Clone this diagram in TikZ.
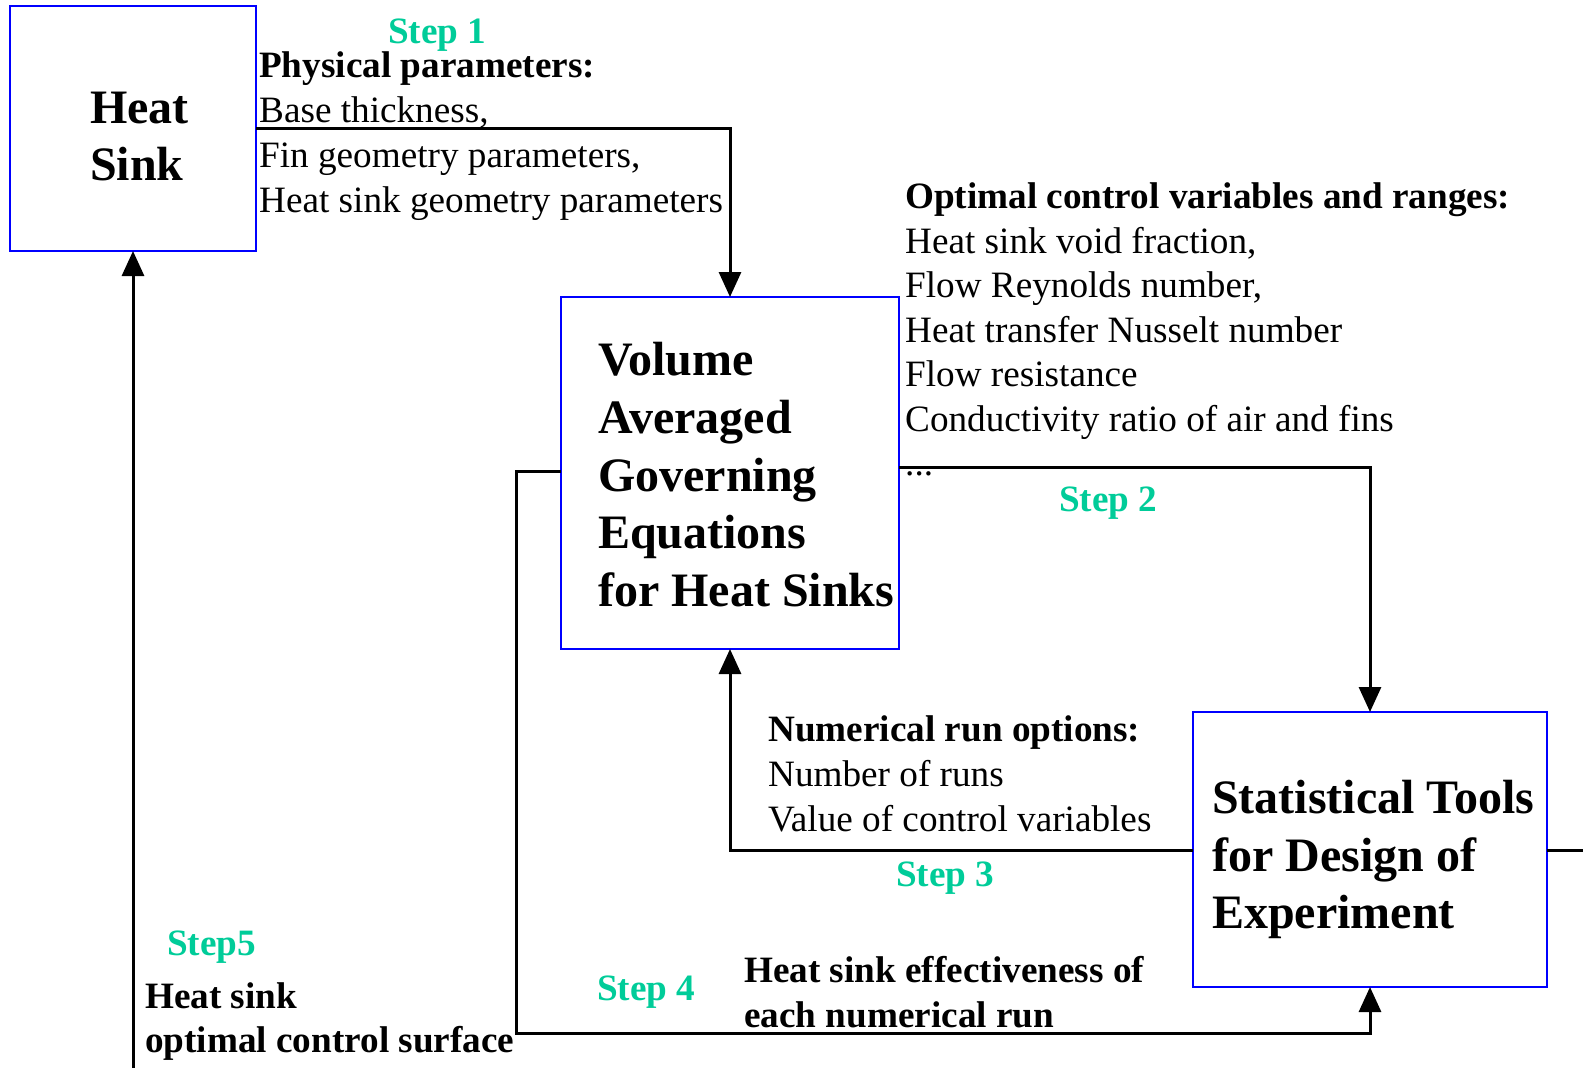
\documentclass[tikz,border=0pt]{standalone}
\usepackage{fontspec}
\setmainfont{Liberation Serif}
\usetikzlibrary{arrows.meta}
\definecolor{stepgreen}{RGB}{0,204,153}
\newcommand\fsmall{\fontsize{37.2}{44.5}\selectfont}
\newcommand\fbig{\fontsize{48}{57}\selectfont\bfseries}
\begin{document}
\begin{tikzpicture}[x=1pt,y=-1pt,
 box/.style={draw=blue, line width=1.5pt, inner sep=0pt, outer sep=0pt, anchor=north west},
 conn/.style={line width=3pt, -{Triangle[length=25pt,width=22pt]}},
 plain/.style={line width=3pt},
 txt/.style={anchor=base west, inner sep=0pt, font=\fsmall},
 btxt/.style={anchor=base west, inner sep=0pt, font=\fsmall\bfseries},
 big/.style={anchor=base west, inner sep=0pt, font=\fbig},
 steplbl/.style={anchor=base west, inner sep=0pt, font=\fsmall\bfseries, text=stepgreen}]
\useasboundingbox (0,0) rectangle (1583,1068);
% boxes
\node[box, minimum width=246pt, minimum height=245pt] (hs) at (10,6) {};
\node[box, minimum width=338pt, minimum height=352pt] (vol) at (561,297) {};
\node[box, minimum width=354pt, minimum height=275pt] (stat) at (1193,712) {};
% box texts
\node[big] (hs1) at (90,123) {Heat};
\node[big] (hs2) at (90,180) {Sink};
\node[big] (v1) at (598,375) {Volume};
\node[big] (v2) at (598,433) {Averaged};
\node[big] (v3) at (598,491) {Governing};
\node[big] (v4) at (598,548) {Equations};
\node[big] (v5) at (598,606) {for Heat Sinks};
\node[big] (s1) at (1212,813) {Statistical Tools};
\node[big] (s2) at (1212,871) {for Design of};
\node[big] (s3) at (1212,928) {Experiment};
% level coordinates
\coordinate (y1) at (0,128);
\coordinate (y2) at (0,467);
\coordinate (y3) at (0,850);
\coordinate (y4) at (0,471);
\coordinate (c4a) at (516,471);
\coordinate (c4b) at (516,1033);
\coordinate (s5) at (133,1068);
\coordinate (re) at (1583,850);
% connectors
\draw[conn] (hs.east |- y1) -| (vol.north);
\draw[conn] (vol.east |- y2) -| (stat.north);
\draw[conn] (stat.west |- y3) -| (vol.south);
\draw[conn] (vol.west |- y4) -- (c4a) -- (c4b) -| (stat.south);
\draw[conn] (s5) -- (hs.south);
\draw[plain] (stat.east |- y3) -- (re);
% step 1
\node[steplbl] (st1) at (388,43) {Step 1};
\node[btxt] (p0) at (259,77) {Physical parameters:};
\node[txt] (p1) at (259,122) {Base thickness,};
\node[txt] (p2) at (259,167) {Fin geometry parameters,};
\node[txt] (p3) at (259,212) {Heat sink geometry parameters};
% step 2
\node[btxt] (o0) at (905,208) {Optimal control variables and ranges:};
\node[txt] (o1) at (905,253) {Heat sink void fraction,};
\node[txt] (o2) at (905,297) {Flow Reynolds number,};
\node[txt] (o3) at (905,342) {Heat transfer Nusselt number};
\node[txt] (o4) at (905,386) {Flow resistance};
\node[txt] (o5) at (905,431) {Conductivity ratio of air and fins};
\node[txt] (o6) at (905,475) {...};
\node[steplbl] (st2) at (1059,511) {Step 2};
% step 3
\node[btxt] (n0) at (768,741) {Numerical run options:};
\node[txt] (n1) at (768,786) {Number of runs};
\node[txt] (n2) at (768,831) {Value of control variables};
\node[steplbl] (st3) at (896,886) {Step 3};
% step 4
\node[steplbl] (st4) at (597,1000) {Step 4};
\node[btxt] (e1) at (744,982) {Heat sink effectiveness of};
\node[btxt] (e2) at (744,1027) {each numerical run};
% step 5
\node[steplbl] (st5) at (167,955) {Step5};
\node[btxt] (h1) at (145,1008) {Heat sink};
\node[btxt] (h2) at (145,1052) {optimal control surface};
\end{tikzpicture}
\end{document}
